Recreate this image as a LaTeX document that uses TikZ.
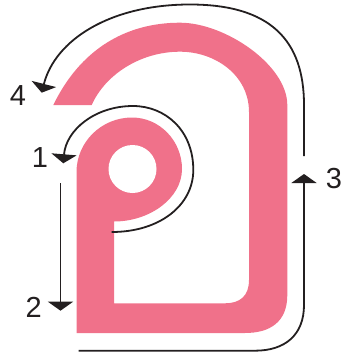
\documentclass[tikz,border=0pt]{standalone}
\usepackage{fontspec}
\setmainfont{Liberation Sans}
\usetikzlibrary{arrows.meta}
\definecolor{glyphpink}{RGB}{240,113,138}
\definecolor{inkline}{RGB}{35,31,32}
\begin{document}
\begin{tikzpicture}[x=1pt,y=-1pt,
  strokeline/.style={draw=inkline,line width=1.8pt},
  tipped/.style={strokeline,-{Triangle[length=9pt,width=25pt]}},
  numlabel/.style={text=inkline,inner sep=0pt,font=\fontsize{29}{30}\selectfont}]
\useasboundingbox (0,0) rectangle (345,356);
% glyph
\fill[glyphpink] (53.3,105) .. controls (80,50) and (125,22.7) .. (180,22.7)
  .. controls (225,22.7) and (287.3,65) .. (287.3,105)
  -- (287.3,295) .. controls (287.3,322) and (270,333) .. (245,333)
  -- (76.5,333) -- (76.5,172)
  .. controls (76.5,142) and (101.5,117.5) .. (132,117.5)
  .. controls (159.5,117.5) and (182,140.7) .. (182,169)
  .. controls (182,198) and (150,221.5) .. (114,221.5)
  -- (114,303.3) -- (225,303.3)
  .. controls (240,303.3) and (249,296) .. (249,280)
  -- (249,112) .. controls (249,75) and (215,51.7) .. (180,51.7)
  .. controls (140,51.7) and (105,75) .. (91.7,105) -- cycle;
\fill[white] (132.5,169) circle[radius=24];
% arrow end points
\coordinate (s1) at (111.7,232);
\coordinate (e1) at (63.3,163.3);
\coordinate (s2) at (60.5,183);
\coordinate (e2) at (60.5,310.7);
\coordinate (s3) at (78.5,350.7);
\coordinate (e3) at (304,174);
\coordinate (s4) at (304,156);
\coordinate (e4) at (41.7,92.7);
% arrows
\draw[tipped] (s1) .. controls (160,232) and (193.3,205) .. (193.3,170)
  .. controls (193.3,130) and (165,106) .. (133,106)
  .. controls (95,106) and (66,130) .. (e1);
\draw[tipped] (s2) -- (e2);
\draw[tipped] (s3) -- (255,350.7) .. controls (285,350.7) and (304,335) .. (304,305) -- (e3);
\draw[tipped] (s4) -- (304,105) .. controls (304,40) and (270,4.5) .. (190,4.5)
  .. controls (110,4.5) and (55,40) .. (e4);
% labels
\node[numlabel] (n1) at (40,157.5) {1};
\node[numlabel] (n2) at (33.8,307.5) {2};
\node[numlabel] (n3) at (334,179) {3};
\node[numlabel] (n4) at (18,96) {4};
\end{tikzpicture}
\end{document}
